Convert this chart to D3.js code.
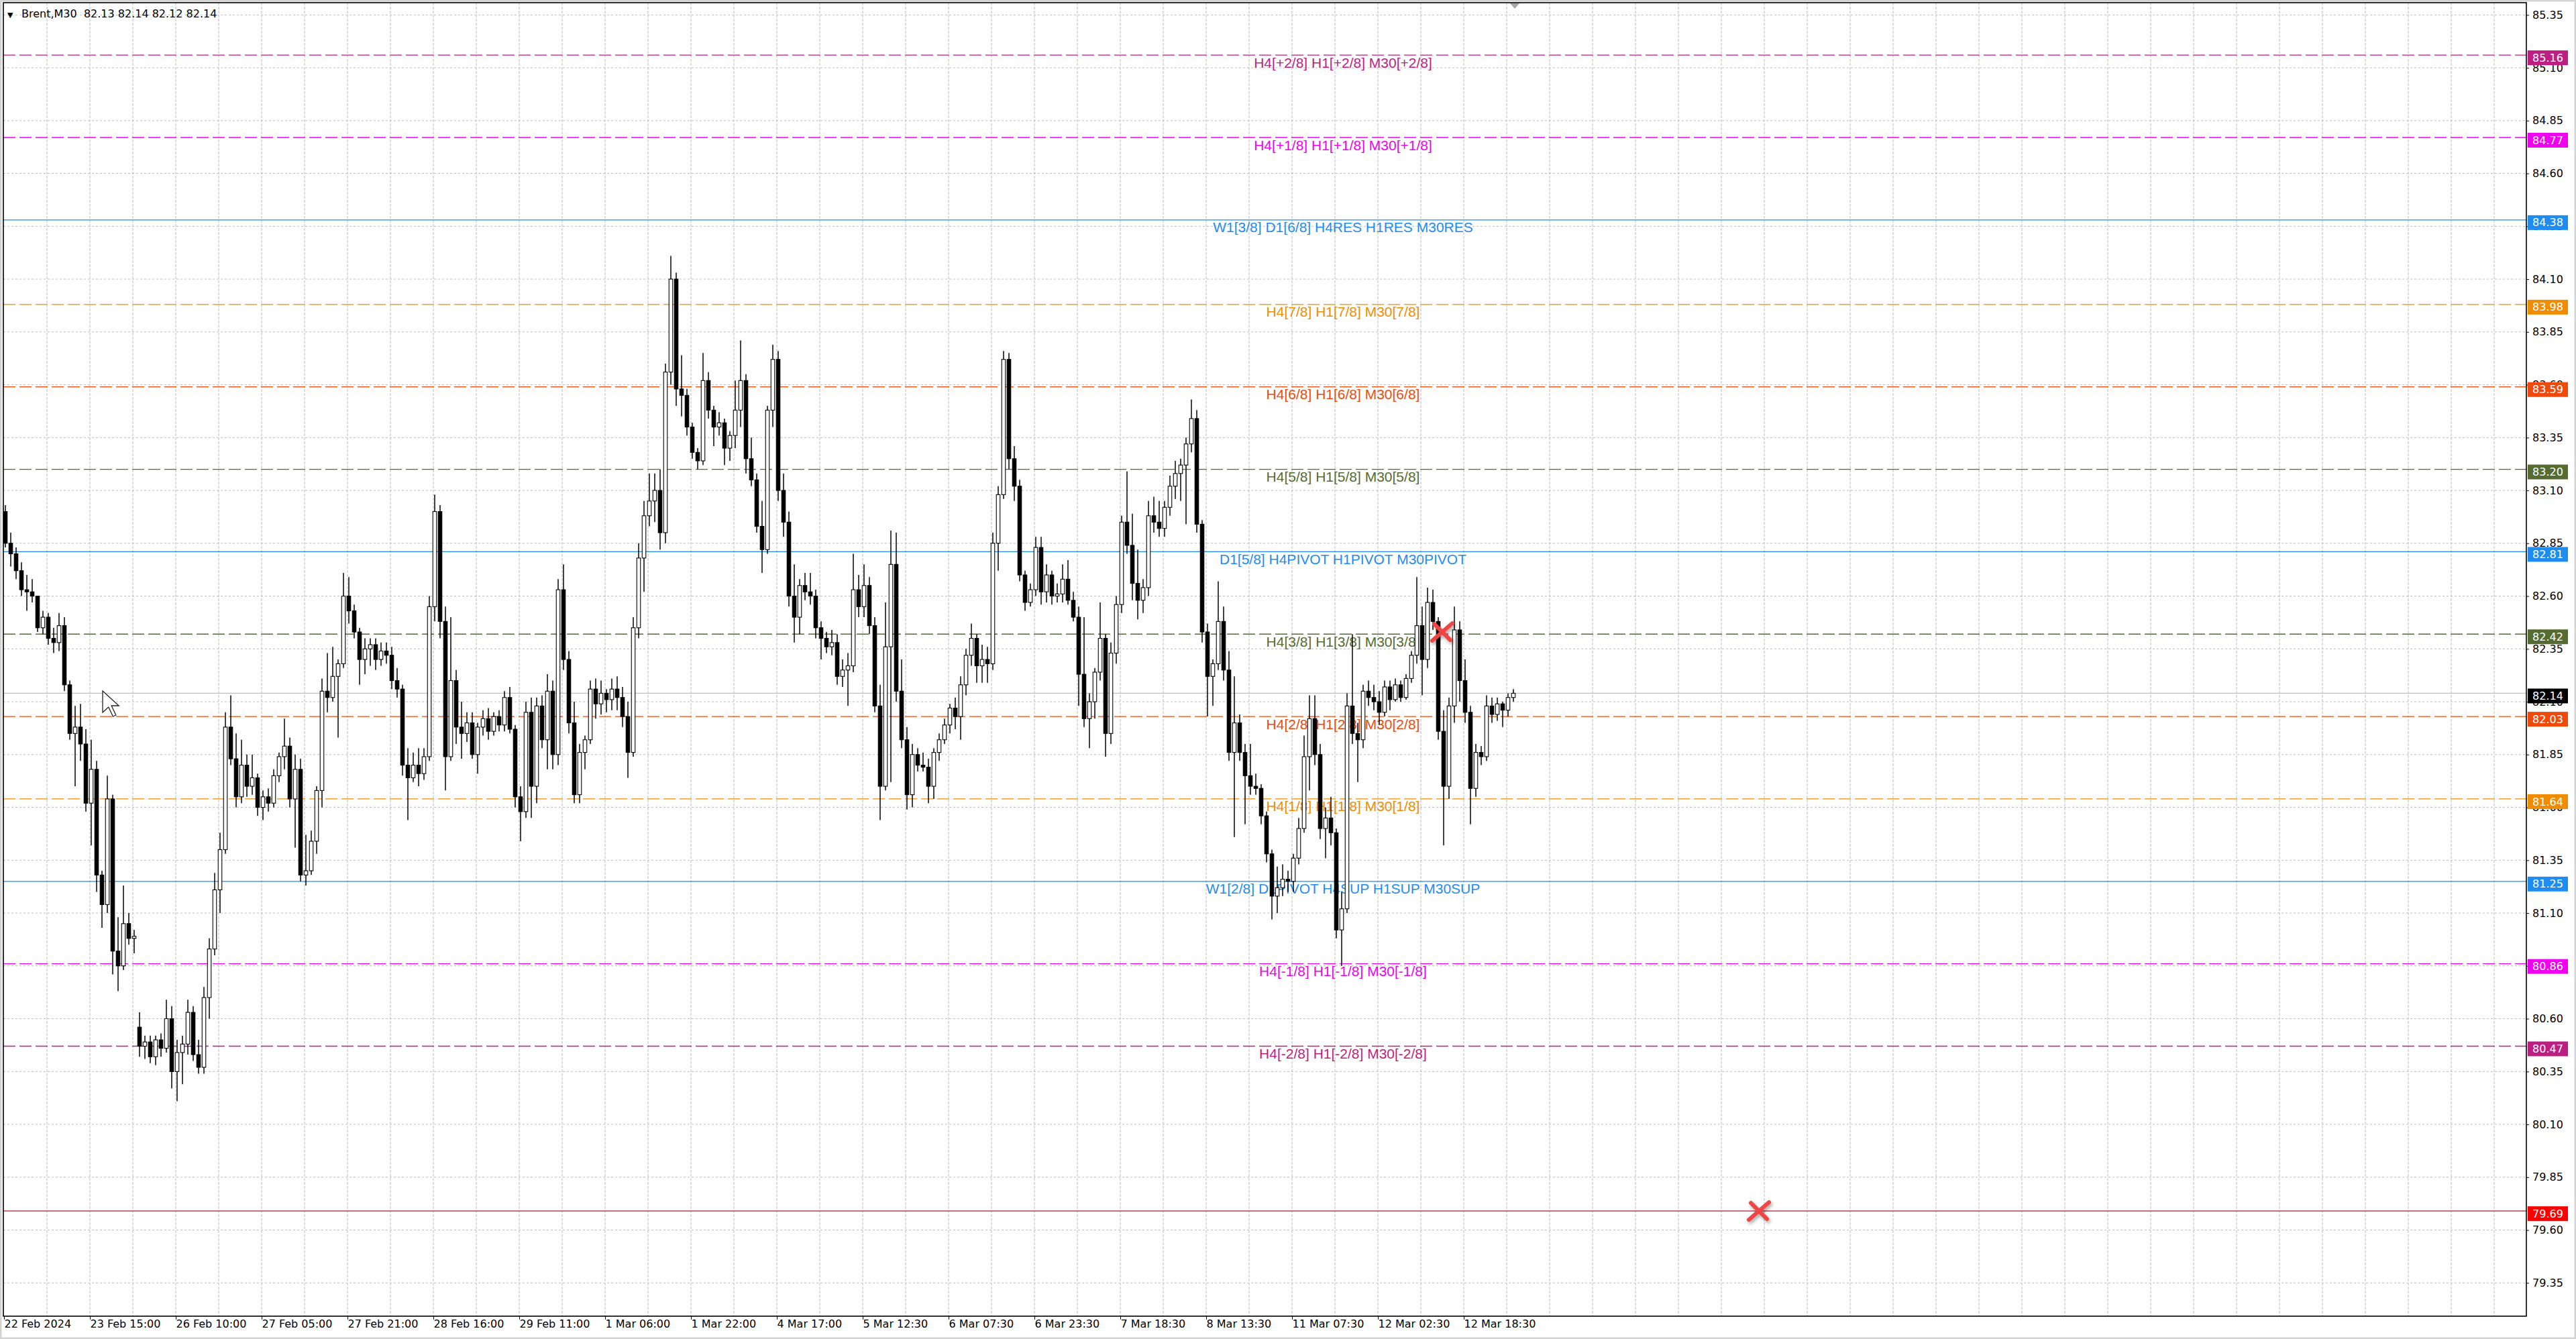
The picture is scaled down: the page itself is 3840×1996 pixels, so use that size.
<!DOCTYPE html>
<html>
<head>
<meta charset="utf-8">
<script src="https://cdn.jsdelivr.net/npm/d3@7"></script>
<style>
  body { margin: 0; background: #fff; overflow: hidden; }
  svg { display: block; }
</style>
</head>
<body>
<script>
// Brent M30 chart, candles grouped by the hour
const opens = [
  83.00,82.85,82.80,82.72,82.63,82.62,82.60,82.45,82.50,82.40,
  82.38,82.46,82.18,81.95,81.98,81.90,81.62,81.78,81.28,81.14,
  81.64,80.92,80.85,81.05,80.98,80.56,80.47,80.49,80.42,80.50,
  80.46,80.60,80.35,80.44,80.48,80.63,80.43,80.37,80.70,80.93,
  81.21,81.40,81.98,81.83,81.65,81.80,81.70,81.74,81.60,81.65,
  81.62,81.75,81.84,81.89,81.64,81.78,81.28,81.30,81.44,81.68,
  82.15,82.12,82.22,82.28,82.60,82.53,82.43,82.30,82.35,82.37,
  82.30,82.34,82.32,82.20,82.16,81.80,81.74,81.80,81.76,81.84,
  82.55,83.00,82.48,81.84,82.20,81.98,81.95,82.00,81.85,81.98,
  82.02,81.96,82.03,81.99,82.12,81.97,81.65,81.58,82.05,81.70,
  82.08,81.92,82.15,81.85,82.63,82.30,82.00,81.66,81.86,81.92,
  82.16,82.09,82.14,82.11,82.16,82.12,82.03,81.86,82.45,82.78,
  82.98,83.05,83.10,82.90,83.66,84.10,83.58,83.55,83.40,83.28,
  83.24,83.62,83.48,83.40,83.42,83.30,83.36,83.48,83.62,83.25,
  83.15,82.93,82.82,83.48,83.72,83.10,82.95,82.60,82.50,82.65,
  82.62,82.60,82.45,82.40,82.36,82.38,82.22,82.25,82.27,82.63,
  82.55,82.65,82.46,82.08,81.70,82.36,82.75,82.15,81.92,81.66,
  81.85,81.80,81.79,81.70,81.86,81.92,81.99,82.07,82.03,82.18,
  82.32,82.40,82.27,82.30,82.28,82.85,83.08,83.72,83.25,83.12,
  82.70,82.57,82.63,82.83,82.62,82.70,82.60,82.61,82.68,82.58,
  82.50,82.23,82.02,82.10,82.24,82.40,81.95,82.33,82.56,82.95,
  82.84,82.66,82.58,82.64,82.98,82.95,82.92,83.02,83.12,83.18,
  83.22,83.32,83.44,82.94,82.43,82.22,82.28,82.48,82.25,81.86,
  82.00,81.86,81.75,81.70,81.69,81.56,81.38,81.18,81.22,81.26,
  81.25,81.36,81.50,81.84,82.02,81.85,81.50,81.55,81.48,81.02,
  81.12,82.08,81.95,81.92,82.15,82.12,82.10,82.05,82.17,82.11,
  82.18,82.12,82.21,82.32,82.46,82.30,82.57,82.48,81.96,81.70,
  82.08,82.44,82.20,82.05,81.69,81.86,81.84,82.08,82.04,82.09,
  82.06,82.12
];
const highs = [
  83.03,82.90,82.83,82.76,82.70,82.68,82.60,82.53,82.52,82.45,
  82.52,82.50,82.20,82.08,82.09,81.97,81.92,81.82,81.30,81.75,
  81.66,81.08,81.23,81.10,81.02,80.63,80.52,80.52,80.52,80.53,
  80.69,80.66,80.50,80.52,80.69,80.66,80.50,80.75,80.98,81.29,
  81.48,82.05,82.13,81.95,81.92,81.85,81.85,81.76,81.68,81.69,
  81.78,81.86,82.02,81.93,81.85,81.83,81.47,81.49,81.70,82.21,
  82.33,82.36,82.30,82.71,82.69,82.56,82.45,82.40,82.40,82.40,
  82.38,82.38,82.36,82.26,82.18,81.88,81.86,81.88,81.88,82.60,
  83.08,83.03,82.55,82.50,82.25,82.10,82.05,82.05,82.00,82.06,
  82.07,82.05,82.06,82.15,82.17,81.99,81.70,82.10,82.12,82.12,
  82.13,82.23,82.20,82.68,82.75,82.34,82.10,81.90,81.94,82.20,
  82.21,82.20,82.16,82.21,82.22,82.17,82.10,82.50,82.85,83.05,
  83.18,83.18,83.20,83.70,84.21,84.13,83.74,83.58,83.42,83.30,
  83.75,83.66,83.50,83.47,83.44,83.38,83.62,83.81,83.65,83.35,
  83.18,83.05,83.50,83.79,83.76,83.18,83.00,82.75,82.68,82.71,
  82.71,82.63,82.48,82.43,82.44,82.42,82.30,82.33,82.80,82.70,
  82.75,82.69,82.50,82.18,82.57,82.91,82.90,82.30,81.98,81.90,
  81.88,81.86,81.83,81.88,81.95,82.02,82.09,82.12,82.22,82.35,
  82.47,82.42,82.37,82.36,82.90,83.12,83.76,83.75,83.31,83.15,
  82.72,82.66,82.88,82.88,82.75,82.72,82.66,82.75,82.77,82.62,
  82.55,82.50,82.14,82.26,82.57,82.42,82.38,82.60,82.98,83.19,
  82.99,82.82,82.68,83.05,83.07,83.05,83.05,83.17,83.24,83.25,
  83.35,83.53,83.48,82.96,82.47,82.30,82.67,82.55,82.34,82.22,
  82.04,81.90,81.90,81.76,81.71,81.58,81.40,81.32,81.33,81.30,
  81.38,81.55,81.94,82.13,82.13,81.90,81.60,81.65,81.50,81.20,
  82.14,82.42,82.00,82.18,82.20,82.18,82.15,82.20,82.20,82.21,
  82.20,82.23,82.34,82.69,82.55,82.64,82.63,82.50,82.06,82.12,
  82.55,82.48,82.30,82.08,81.90,81.89,82.13,82.12,82.12,82.10,
  82.14,82.16
];
const lows = [
  82.83,82.74,82.68,82.60,82.53,82.57,82.43,82.42,82.37,82.33,
  82.34,82.15,81.92,81.70,81.82,81.58,81.42,81.20,81.03,81.10,
  80.81,80.73,80.83,80.95,80.91,80.42,80.41,80.39,80.38,80.42,
  80.44,80.27,80.21,80.29,80.43,80.40,80.34,80.34,80.60,80.90,
  81.10,81.38,81.80,81.60,81.62,81.65,81.66,81.56,81.54,81.58,
  81.60,81.72,81.78,81.60,81.41,81.25,81.23,81.28,81.38,81.60,
  82.05,82.10,81.93,82.26,82.47,82.40,82.18,82.23,82.27,82.25,
  82.27,82.28,82.16,82.12,81.75,81.54,81.72,81.70,81.73,81.82,
  82.48,82.40,81.68,81.82,81.90,81.83,81.91,81.83,81.76,81.94,
  81.92,81.94,81.96,81.96,81.95,81.60,81.44,81.55,81.55,81.62,
  81.88,81.78,81.78,81.80,82.25,81.95,81.62,81.62,81.78,81.90,
  82.02,82.04,82.05,82.06,82.06,81.98,81.74,81.84,82.40,82.62,
  82.93,82.95,82.82,82.85,83.60,83.50,83.45,83.36,83.25,83.20,
  83.22,83.44,83.31,83.36,83.22,83.24,83.30,83.40,83.18,83.12,
  82.90,82.71,82.80,83.40,83.05,82.88,82.55,82.38,82.42,82.58,
  82.56,82.40,82.30,82.33,82.32,82.18,82.17,82.08,82.24,82.50,
  82.50,82.42,82.05,81.54,81.68,81.72,82.10,81.88,81.59,81.60,
  81.77,81.77,81.62,81.64,81.82,81.90,81.95,81.97,81.92,82.13,
  82.27,82.19,82.19,82.19,82.25,82.72,83.06,83.20,83.05,82.67,
  82.53,82.55,82.60,82.56,82.57,82.56,82.57,82.57,82.56,82.48,
  82.08,81.98,81.88,82.02,82.20,81.84,81.90,82.28,82.52,82.80,
  82.58,82.49,82.52,82.60,82.90,82.88,82.88,82.98,83.06,83.05,
  82.94,83.28,82.90,82.38,82.03,82.08,82.25,82.20,81.82,81.46,
  81.82,81.52,81.66,81.66,81.52,81.34,81.07,81.10,81.18,81.20,
  81.20,81.33,81.48,81.68,81.80,81.45,81.36,81.42,80.98,80.85,
  81.10,81.90,81.72,81.88,82.08,82.06,81.99,82.03,82.06,82.10,
  82.10,82.11,82.19,82.28,82.13,82.26,82.44,81.92,81.42,81.64,
  82.00,82.10,82.00,81.52,81.65,81.80,81.82,82.00,82.01,81.98,
  82.03,82.10
];
const closes = [
  82.85,82.80,82.72,82.63,82.62,82.60,82.45,82.50,82.40,82.38,
  82.46,82.18,81.95,81.98,81.90,81.62,81.78,81.28,81.14,81.64,
  80.92,80.85,81.05,80.98,80.99,80.47,80.49,80.42,80.50,80.46,
  80.60,80.35,80.44,80.48,80.63,80.43,80.37,80.70,80.93,81.21,
  81.40,81.98,81.83,81.65,81.80,81.70,81.74,81.60,81.65,81.62,
  81.75,81.84,81.89,81.64,81.78,81.28,81.30,81.44,81.68,82.15,
  82.12,82.22,82.28,82.60,82.53,82.43,82.30,82.35,82.37,82.30,
  82.34,82.32,82.20,82.16,81.80,81.74,81.80,81.76,81.84,82.55,
  83.00,82.48,81.84,82.20,81.98,81.95,82.00,81.85,81.98,82.02,
  81.96,82.03,81.99,82.12,81.97,81.65,81.58,82.05,81.70,82.08,
  81.92,82.15,81.85,82.63,82.30,82.00,81.66,81.86,81.92,82.16,
  82.09,82.14,82.11,82.16,82.12,82.03,81.86,82.45,82.78,82.98,
  83.05,83.10,82.90,83.66,84.10,83.58,83.55,83.40,83.28,83.24,
  83.62,83.48,83.40,83.42,83.30,83.36,83.48,83.62,83.25,83.15,
  82.93,82.82,83.48,83.72,83.10,82.95,82.60,82.50,82.65,82.62,
  82.60,82.45,82.40,82.36,82.38,82.22,82.25,82.27,82.63,82.55,
  82.65,82.46,82.08,81.70,82.36,82.75,82.15,81.92,81.66,81.85,
  81.80,81.79,81.70,81.86,81.92,81.99,82.07,82.03,82.18,82.32,
  82.40,82.27,82.30,82.28,82.85,83.08,83.72,83.25,83.12,82.70,
  82.57,82.63,82.83,82.62,82.70,82.60,82.61,82.68,82.58,82.50,
  82.23,82.02,82.10,82.24,82.40,81.95,82.33,82.56,82.95,82.84,
  82.66,82.58,82.64,82.98,82.95,82.92,83.02,83.12,83.18,83.22,
  83.32,83.44,82.94,82.43,82.22,82.28,82.48,82.25,81.86,82.00,
  81.86,81.75,81.70,81.69,81.56,81.38,81.18,81.22,81.26,81.25,
  81.36,81.50,81.84,82.02,81.85,81.50,81.55,81.48,81.02,81.12,
  82.08,81.95,81.92,82.15,82.12,82.10,82.05,82.17,82.11,82.18,
  82.12,82.21,82.32,82.46,82.30,82.57,82.48,81.96,81.70,82.08,
  82.44,82.20,82.05,81.69,81.86,81.84,82.08,82.04,82.09,82.06,
  82.12,82.14
];

// Right-hand price scale labels
const priceTicks = [
  79.35,79.60,79.85,80.10,80.35,80.60,80.85,81.10,81.35,81.60,
  81.85,82.10,82.35,82.60,82.85,83.10,83.35,83.60,83.85,84.10,
  84.35,84.60,84.85,85.10,85.35
];

// Time labels, one every 32 M30 bars
const dateLabels = [
  "22 Feb 2024","23 Feb 15:00","26 Feb 10:00","27 Feb 05:00","27 Feb 21:00",
  "28 Feb 16:00","29 Feb 11:00","1 Mar 06:00","1 Mar 22:00","4 Mar 17:00",
  "5 Mar 12:30","6 Mar 07:30","6 Mar 23:30","7 Mar 18:30","8 Mar 13:30",
  "11 Mar 07:30","12 Mar 02:30","12 Mar 18:30"
];

// Murrey math levels
const levelPrices = [85.16,84.77,84.38,83.98,83.59,83.20,82.81,82.42,82.03,81.64,81.25,80.86,80.47];
const levelNames = [
  "H4[+2/8] H1[+2/8] M30[+2/8]",
  "H4[+1/8] H1[+1/8] M30[+1/8]",
  "W1[3/8] D1[6/8] H4RES H1RES M30RES",
  "H4[7/8] H1[7/8] M30[7/8]",
  "H4[6/8] H1[6/8] M30[6/8]",
  "H4[5/8] H1[5/8] M30[5/8]",
  "D1[5/8] H4PIVOT H1PIVOT M30PIVOT",
  "H4[3/8] H1[3/8] M30[3/8]",
  "H4[2/8] H1[2/8] M30[2/8]",
  "H4[1/8] H1[1/8] M30[1/8]",
  "W1[2/8] D1PIVOT H4SUP H1SUP M30SUP",
  "H4[-1/8] H1[-1/8] M30[-1/8]",
  "H4[-2/8] H1[-2/8] M30[-2/8]"
];
const levelKinds = ["p2","p1","sr","o78","r68","g58","sr","g58","r68","o78","sr","p1","p2"];

const lastPrice = 82.14;
const stopPrice = 79.69;
// red crosses drawn on the chart: bar index (M30) and price
const markBars = [536, 654];
const markPrices = [82.43, 79.69];

// styles per level kind
const kindStyle = {
  p2:  { color: "#BE1E82", dash: "18,6" },
  p1:  { color: "#F000F0", dash: "18,6" },
  sr:  { color: "#1E8CF0", dash: null },
  o78: { color: "#F08C00", dash: "18,6" },
  r68: { color: "#F04A0A", dash: "18,6" },
  g58: { color: "#556B2F", dash: "18,6" }
};

const W = 3840, H = 1996;
const plot = { left: 5, top: 4, right: 3766, bottom: 1962 };

const svg = d3.select("body").append("svg")
  .attr("width", W)
  .attr("height", H);

// drop shadow for the crosses
const defs = svg.append("defs");
defs.append("filter").attr("id", "shadow")
  .attr("x", "-50%").attr("y", "-50%").attr("width", "200%").attr("height", "200%")
  .append("feDropShadow")
  .attr("dx", 2).attr("dy", 3).attr("stdDeviation", 2.5)
  .attr("flood-color", "#000").attr("flood-opacity", 0.35);
defs.append("clipPath").attr("id", "plotClip")
  .append("rect")
  .attr("x", plot.left).attr("y", plot.top)
  .attr("width", plot.right - plot.left).attr("height", plot.bottom - plot.top);

// window border
svg.append("rect")
  .attr("x", 1).attr("y", 1).attr("width", W - 2).attr("height", H - 2)
  .attr("fill", "#fff").attr("stroke", "#d4d4d4").attr("stroke-width", 3);

// scales: x on M30 bar index, y on price
const x = d3.scaleLinear().domain([0, 940]).range([6, 3766]);
const y = d3.scaleLinear().domain([79.35, 85.35]).range([1912.3, 22.3]);

const chart = svg.append("g").attr("clip-path", "url(#plotClip)");

// grid
chart.append("g").selectAll("line")
  .data(priceTicks)
  .join("line")
  .attr("x1", plot.left).attr("x2", plot.right)
  .attr("y1", d => y(d)).attr("y2", d => y(d))
  .attr("stroke", "#bcbcbc").attr("stroke-width", 1)
  .attr("stroke-dasharray", "3,3");

chart.append("g").selectAll("line")
  .data(d3.range(16, 940, 16))
  .join("line")
  .attr("x1", d => x(d)).attr("x2", d => x(d))
  .attr("y1", plot.top).attr("y2", plot.bottom)
  .attr("stroke", "#bcbcbc").attr("stroke-width", 1)
  .attr("stroke-dasharray", "4,2");

// level lines
const levels = levelPrices.map((p, i) => ({ p, name: levelNames[i], st: kindStyle[levelKinds[i]] }));

chart.append("g").selectAll("line")
  .data(levels)
  .join("line")
  .attr("x1", plot.left).attr("x2", plot.right)
  .attr("y1", d => y(d.p)).attr("y2", d => y(d.p))
  .attr("stroke", d => d.st.color)
  .attr("stroke-width", 1.3)
  .attr("stroke-dasharray", d => d.st.dash);

// current price line and stop line
chart.append("line")
  .attr("x1", plot.left).attr("x2", plot.right)
  .attr("y1", y(lastPrice)).attr("y2", y(lastPrice))
  .attr("stroke", "#c0c0c0").attr("stroke-width", 1.2);

chart.append("line")
  .attr("x1", plot.left).attr("x2", plot.right)
  .attr("y1", y(stopPrice)).attr("y2", y(stopPrice))
  .attr("stroke", "#c41a1a").attr("stroke-width", 1.2);

// level names, centred under each line
chart.append("g").selectAll("text")
  .data(levels)
  .join("text")
  .attr("x", 2002)
  .attr("y", d => y(d.p) + 18.5)
  .attr("text-anchor", "middle")
  .attr("font-family", "'Liberation Sans', Arial, sans-serif")
  .attr("font-size", 21)
  .attr("fill", d => d.st.color)
  .text(d => d.name);

// candles (one per hour, spanning two M30 bars)
const candles = opens.map((o, j) => ({ j, o, h: highs[j], l: lows[j], c: closes[j] }));
const cx = d => x(2 * d.j + 0.5);
const cg = chart.append("g");

cg.selectAll("line")
  .data(candles)
  .join("line")
  .attr("x1", cx).attr("x2", cx)
  .attr("y1", d => y(d.h)).attr("y2", d => y(d.l))
  .attr("stroke", "#000").attr("stroke-width", 1.5);

cg.selectAll("rect")
  .data(candles)
  .join("rect")
  .attr("x", d => cx(d) - 2.75)
  .attr("width", 5.5)
  .attr("y", d => y(Math.max(d.o, d.c)))
  .attr("height", d => Math.max(1, Math.abs(y(d.o) - y(d.c))))
  .attr("fill", d => d.c >= d.o ? "#fff" : "#000")
  .attr("stroke", "#000").attr("stroke-width", 1.1);

// red crosses
const marks = markBars.map((b, i) => ({ b, p: markPrices[i] }));
const mg = chart.append("g").attr("filter", "url(#shadow)");
marks.forEach(m => {
  const mx = x(m.b), my = y(m.p);
  mg.append("path")
    .attr("d", `M${mx - 15},${my + 13}L${mx + 15},${my - 13}M${mx - 12},${my - 12}L${mx + 12},${my + 12}`)
    .attr("stroke", "#ee4444").attr("stroke-width", 6)
    .attr("stroke-linecap", "round").attr("fill", "none");
});

// mouse pointer left on the chart
const arrow = [[0,0],[0,16],[4,12],[7,19],[9,18],[6,11],[11,11]];
chart.append("polygon")
  .attr("points", arrow.map(p => [153 + p[0] * 2.2, 1030 + p[1] * 2.0].join(",")).join(" "))
  .attr("fill", "#fff").attr("stroke", "#222").attr("stroke-width", 1.3);

// chart frame
svg.append("rect")
  .attr("x", plot.left).attr("y", plot.top)
  .attr("width", plot.right - plot.left).attr("height", plot.bottom - plot.top)
  .attr("fill", "none").attr("stroke", "#000").attr("stroke-width", 1.6);

// chart shift marker at the top
const shiftX = x(563);
svg.append("path")
  .attr("d", `M${shiftX - 7},${plot.top + 1}L${shiftX + 7},${plot.top + 1}L${shiftX},${plot.top + 9}Z`)
  .attr("fill", "#a8a8a8");

// price axis
const yAxis = d3.axisRight(y)
  .tickValues(priceTicks)
  .tickFormat(d3.format(".2f"))
  .tickSize(4)
  .tickPadding(5);

const ya = svg.append("g")
  .attr("transform", `translate(${plot.right},0)`)
  .call(yAxis);
ya.select(".domain").remove();
ya.selectAll(".tick line").attr("stroke", "#000");
ya.selectAll(".tick text")
  .attr("font-family", "'DejaVu Sans', Verdana, sans-serif")
  .attr("font-size", 16)
  .attr("fill", "#000");

// time axis
const xAxis = d3.axisBottom(x)
  .tickValues(dateLabels.map((d, i) => i * 32))
  .tickFormat((d, i) => dateLabels[i])
  .tickSize(5)
  .tickPadding(1);

const xa = svg.append("g")
  .attr("transform", `translate(0,${plot.bottom})`)
  .call(xAxis);
xa.select(".domain").remove();
xa.selectAll(".tick line").attr("stroke", "#000");
xa.selectAll(".tick text")
  .attr("text-anchor", "start")
  .attr("x", 0)
  .attr("font-family", "'DejaVu Sans', Verdana, sans-serif")
  .attr("font-size", 16)
  .attr("fill", "#000");

// price tags on the right axis
const tags = levels.map(d => ({ p: d.p, fill: d.st.color }))
  .concat([{ p: stopPrice, fill: "#ff0000" }, { p: lastPrice, fill: "#000" }]);

const tg = svg.append("g");
tg.selectAll("rect")
  .data(tags)
  .join("rect")
  .attr("x", plot.right + 2)
  .attr("y", d => y(d.p) - 7)
  .attr("width", 60).attr("height", 22)
  .attr("fill", d => d.fill);
tg.selectAll("text")
  .data(tags)
  .join("text")
  .attr("x", plot.right + 32)
  .attr("y", d => y(d.p) + 4)
  .attr("dy", "0.35em")
  .attr("text-anchor", "middle")
  .attr("font-family", "'DejaVu Sans', Verdana, sans-serif")
  .attr("font-size", 16)
  .attr("fill", "#fff")
  .text(d => d.p.toFixed(2));

// title
svg.append("text")
  .attr("x", 11).attr("y", 26)
  .attr("font-family", "'DejaVu Sans', sans-serif")
  .attr("font-size", 11)
  .attr("fill", "#000")
  .text("\u25BC");
svg.append("text")
  .attr("x", 32).attr("y", 26)
  .attr("font-family", "'DejaVu Sans', Tahoma, sans-serif")
  .attr("font-size", 16)
  .attr("fill", "#000")
  .style("white-space", "pre")
  .text("Brent,M30  82.13 82.14 82.12 82.14");
</script>
</body>
</html>
